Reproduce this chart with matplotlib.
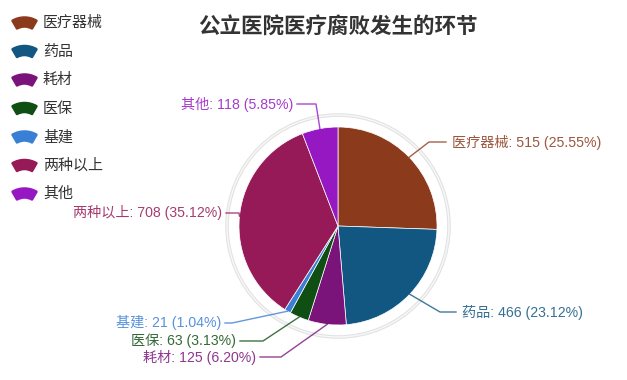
import numpy as np
import matplotlib
matplotlib.use('Agg')
import matplotlib.pyplot as plt
from matplotlib.patches import Wedge, Circle

plt.rcParams['font.family'] = ['Noto Sans CJK SC', 'DejaVu Sans']
label_fonts = ['Liberation Sans', 'Noto Sans CJK SC']

title = '公立医院医疗腐败发生的环节'
categories = ['医疗器械', '药品', '耗材', '医保', '基建', '两种以上', '其他']
counts = [515, 466, 125, 63, 21, 708, 118]
percents = ['25.55%', '23.12%', '6.20%', '3.13%', '1.04%', '35.12%', '5.85%']
colors = ['#8b3a1c', '#115781', '#7a137a', '#0f4f14', '#3a7fd6', '#961a58', '#9618c2']

W, H = 627, 380
cx, cy, R = 338, 226, 99   # pixel coords, y down

# label layout: elbow point, end of line, text side (pixel coords, y down)
elbows = [(429, 142), (440, 312), (281, 357), (263, 341), (232, 323), (239, 213), (316, 104)]
line_ends = [(446, 142), (456, 312), (260, 357), (240, 341), (225, 323), (226, 213), (297, 104)]
sides = ['left', 'left', 'right', 'right', 'right', 'right', 'right']


def py(y):
    return H - y


fig = plt.figure(figsize=(W / 100, H / 100), dpi=100)
ax = fig.add_axes([0, 0, 1, 1])
ax.set_xlim(0, W)
ax.set_ylim(0, H)
ax.set_aspect('equal')
ax.axis('off')

# outer ring
ax.add_patch(Circle((cx, py(cy)), 111, fill=False, edgecolor='#e2e2e2', lw=2.6))
ax.add_patch(Circle((cx, py(cy)), 111, fill=False, edgecolor='#f8f8f8', lw=1.0))

wedges, _ = ax.pie(counts, colors=colors, startangle=90, counterclock=False,
                   center=(cx, py(cy)), radius=R, frame=True,
                   wedgeprops=dict(edgecolor='white', linewidth=0.5))
ax.set_xlim(0, W)
ax.set_ylim(0, H)
ax.axis('off')

for i, w in enumerate(wedges):
    ang = np.deg2rad((w.theta1 + w.theta2) / 2)
    x0 = cx + R * np.cos(ang)
    y0 = py(cy) + R * np.sin(ang)
    ex, ey = elbows[i]
    lx, ly = line_ends[i]
    ax.plot([x0, ex, lx], [y0, py(ey), py(ly)], color=colors[i], lw=1, alpha=0.8)
    label = f'{categories[i]}: {counts[i]} ({percents[i]})'
    if sides[i] == 'left':
        ax.text(lx + 6, py(ly), label, color=colors[i], fontsize=10.2,
                family=label_fonts, ha='left', va='center', alpha=0.85)
    else:
        ax.text(lx - 4, py(ly), label, color=colors[i], fontsize=10.2,
                family=label_fonts, ha='right', va='center', alpha=0.85)

# title
ax.text(cx, py(27), title, fontsize=15.5, fontweight='bold', color='#333333',
        ha='center', va='center')

# legend with fan icons
for i, name in enumerate(categories):
    ry = 23 + i * 28.5
    ax.add_patch(Wedge((24.5, py(ry - 5.5 + 24)), 24, 60, 120, width=9,
                       facecolor=colors[i], edgecolor=colors[i], lw=1.8,
                       joinstyle='round'))
    ax.text(43, py(ry), name, fontsize=10.8, color='#333333', ha='left', va='center')

fig.savefig('out.png', dpi=100)
